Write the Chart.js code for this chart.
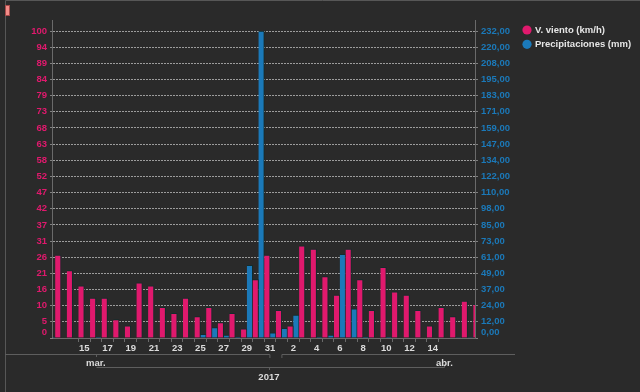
<!DOCTYPE html>
<html><head><meta charset="utf-8">
<script src="https://cdn.jsdelivr.net/npm/chart.js@4/dist/chart.umd.min.js"></script>
<style>html,body{margin:0;padding:0;background:#2a2a2a;}canvas{display:block;}</style>
</head><body>
<canvas id="c" width="640" height="392"></canvas>
<script>
// ---- data ----
const dates = [
  '2017-03-12','2017-03-13','2017-03-14','2017-03-15','2017-03-16','2017-03-17','2017-03-18','2017-03-19','2017-03-20','2017-03-21',
  '2017-03-22','2017-03-23','2017-03-24','2017-03-25','2017-03-26','2017-03-27','2017-03-28','2017-03-29','2017-03-30','2017-03-31',
  '2017-04-01','2017-04-02','2017-04-03','2017-04-04','2017-04-05','2017-04-06','2017-04-07','2017-04-08','2017-04-09','2017-04-10',
  '2017-04-11','2017-04-12','2017-04-13','2017-04-14','2017-04-15','2017-04-16','2017-04-17','2017-04-18'
];
const windKmh = [null,27,22,17,13,13,6,4,18,17, 10,8,13,7,10,5,8,3,19,27,
  9,4,30,29,20,14,29,19,9,23, 15,14,9,4,10,7,12,11];
const rainMm = [0.5,0,0,0,0.5,0,0,0,0,0, 0,0,0,2.8,7.8,2.3,0.5,55,232,4,
  7.3,17.4,0,0.5,2.3,63.3,22,0.5,0,0.5, 0,0,0,0,0,0.3,0.3,0];
const windTickLabels = ['0','5','10','16','21','26','31','37','42','47','52','58','63','68','73','79','84','89','94','100'];
const rainTickLabels = ['0,00','12,00','24,00','37,00','49,00','61,00','73,00','85,00','98,00','110,00','122,00','134,00','147,00','159,00','171,00','183,00','195,00','208,00','220,00','232,00'];
const seriesNames = ['V. viento (km/h)', 'Precipitaciones (mm)'];
const monthLabels = ['mar.', 'abr.'];
const yearLabels = ['2017'];
const firstLabelDay = '2017-03-15';
const lastLabelDay = '2017-04-14';
const windMax = 100, rainMax = 232;

// ---- helpers ----
const dayNum = s => Date.UTC(+s.slice(0,4), +s.slice(5,7)-1, +s.slice(8,10)) / 86400000;
const PINK = '#e0196d', BLUE = '#1b79b9';
const FONT = '"Liberation Sans", Arial, sans-serif';
const tickFont = {family: FONT, size: 9.5, weight: 'bold'};
const xMin = dayNum('2017-03-12') + 0.31;
const xMax = dayNum('2017-04-17') + 0.64;
const xTickValues = [];
for (let v = dayNum(firstLabelDay); v <= dayNum(lastLabelDay); v++) xTickValues.push(v);

const decor = {
  id: 'decor',
  beforeDraw(chart) {
    const ctx = chart.ctx;
    ctx.save();
    ctx.fillStyle = '#2a2a2a';
    ctx.fillRect(0, 0, chart.width, chart.height);
    ctx.strokeStyle = '#575757';
    ctx.lineWidth = 1;
    ctx.beginPath();
    ctx.moveTo(5.5, chart.height); ctx.lineTo(5.5, 0.5); ctx.lineTo(chart.width, 0.5);
    ctx.stroke();
    ctx.fillStyle = '#f38c88';
    ctx.fillRect(6, 6, 3, 9);
    ctx.strokeStyle = '#a54a4a';
    ctx.strokeRect(5.5, 5.5, 4, 10);
    ctx.restore();
  },
  afterDraw(chart) {
    const ctx = chart.ctx;
    const a = chart.chartArea;
    const xs = chart.scales.x;
    ctx.save();
    // extended y axis lines
    ctx.strokeStyle = '#6a6a6a';
    ctx.lineWidth = 1;
    ctx.beginPath();
    ctx.moveTo(Math.round(a.left) - 0.5, 20); ctx.lineTo(Math.round(a.left) - 0.5, a.bottom);
    ctx.moveTo(Math.round(a.right) + 0.5, 20); ctx.lineTo(Math.round(a.right) + 0.5, a.bottom);
    ctx.stroke();
    // month / year grouping rows
    const boundary = xs.getPixelForValue(dayNum('2017-03-31') + 0.5);
    const mPos = [xs.getPixelForValue(dayNum('2017-03-16')), xs.getPixelForValue(dayNum('2017-04-15'))];
    const yPos = xs.getPixelForValue(dayNum('2017-03-31') - 0.1);
    ctx.strokeStyle = '#5e5e5e';
    ctx.beginPath();
    ctx.moveTo(5, 354.5); ctx.lineTo(boundary - 6, 354.5); ctx.lineTo(boundary - 6, 358);
    ctx.moveTo(boundary + 6, 358); ctx.lineTo(boundary + 6, 354.5); ctx.lineTo(515, 354.5);
    ctx.moveTo(Math.round(mPos[0]) + 0.5, 354.5); ctx.lineTo(Math.round(mPos[0]) + 0.5, 357);
    ctx.moveTo(Math.round(mPos[0]) + 0.5, 367.5); ctx.lineTo(Math.round(mPos[1]) + 0.5, 367.5);
    ctx.lineTo(Math.round(mPos[1]) + 0.5, 364);
    ctx.moveTo(Math.round(yPos) + 0.5, 367.5); ctx.lineTo(Math.round(yPos) + 0.5, 370);
    ctx.stroke();
    ctx.fillStyle = '#dcdcdc';
    ctx.font = 'bold 9.5px ' + FONT;
    ctx.textAlign = 'center';
    ctx.textBaseline = 'middle';
    monthLabels.forEach((m, i) => ctx.fillText(m, mPos[i], 363));
    ctx.fillText(yearLabels[0], yPos, 377);
    // legend
    ctx.textAlign = 'left';
    chart.data.datasets.forEach((ds, i) => {
      const y = 30 + i * 14.3;
      ctx.fillStyle = ds.backgroundColor;
      ctx.beginPath(); ctx.arc(527, y, 4.6, 0, Math.PI * 2); ctx.fill();
      ctx.fillStyle = '#e6e6e6';
      ctx.fillText(ds.label, 535, y + 0.5);
    });
    ctx.restore();
  }
};

const toPoints = vals => dates.map((d, i) => ({x: dayNum(d), y: vals[i]}));

new Chart(document.getElementById('c'), {
  type: 'bar',
  data: {
    datasets: [
      {label: seriesNames[0], data: toPoints(windKmh), yAxisID: 'y', backgroundColor: PINK,
       borderColor: '#132c2b', borderWidth: {top: 1, right: 1, left: 0, bottom: 0}, borderSkipped: false,
       categoryPercentage: 1, barPercentage: 1},
      {label: seriesNames[1], data: toPoints(rainMm), yAxisID: 'y1', backgroundColor: BLUE,
       borderColor: '#132c2b', borderWidth: {top: 1, right: 1, left: 0, bottom: 0}, borderSkipped: false,
       categoryPercentage: 1, barPercentage: 1}
    ]
  },
  options: {
    responsive: false,
    devicePixelRatio: 1,
    animation: false,
    layout: {padding: {top: 31, left: 0, right: 0, bottom: 0}},
    plugins: {legend: {display: false}, tooltip: {enabled: false}},
    scales: {
      x: {
        type: 'linear', min: xMin, max: xMax, offset: false,
        afterBuildTicks: s => { s.ticks = xTickValues.map(v => ({value: v})); },
        afterFit: s => { s.height = 54; },
        ticks: {
          autoSkip: false, maxRotation: 0, minRotation: 0, padding: 1, color: '#dcdcdc', font: tickFont,
          callback: (v) => ((v - xTickValues[0]) % 2 === 0) ? String(new Date(v * 86400000).getUTCDate()) : ''
        },
        grid: {offset: true, drawOnChartArea: false, drawTicks: true, tickLength: 4, color: '#6a6a6a'},
        border: {display: true, color: '#6a6a6a'}
      },
      y: {
        position: 'left', min: 0, max: windMax,
        afterBuildTicks: s => { s.ticks = windTickLabels.map((_, i) => ({value: i * windMax / (windTickLabels.length - 1)})); },
        afterFit: s => { s.width = 53; },
        ticks: {autoSkip: false, padding: 3, color: PINK, font: tickFont,
          callback: (v, i) => i === 0 ? [windTickLabels[0], ''] : windTickLabels[i]},
        grid: {color: '#9c9c9c', tickLength: 3, tickColor: '#808080'},
        border: {display: false, dash: [2, 1]}
      },
      y1: {
        position: 'right', min: 0, max: rainMax,
        afterBuildTicks: s => { s.ticks = rainTickLabels.map((_, i) => ({value: i * rainMax / (rainTickLabels.length - 1)})); },
        afterFit: s => { s.width = 165; },
        ticks: {autoSkip: false, padding: 3, color: BLUE, font: tickFont,
          callback: (v, i) => i === 0 ? [rainTickLabels[0], ''] : rainTickLabels[i]},
        grid: {drawOnChartArea: false, tickLength: 3, color: '#808080'},
        border: {display: false}
      }
    }
  },
  plugins: [decor]
});
</script>
</body></html>
